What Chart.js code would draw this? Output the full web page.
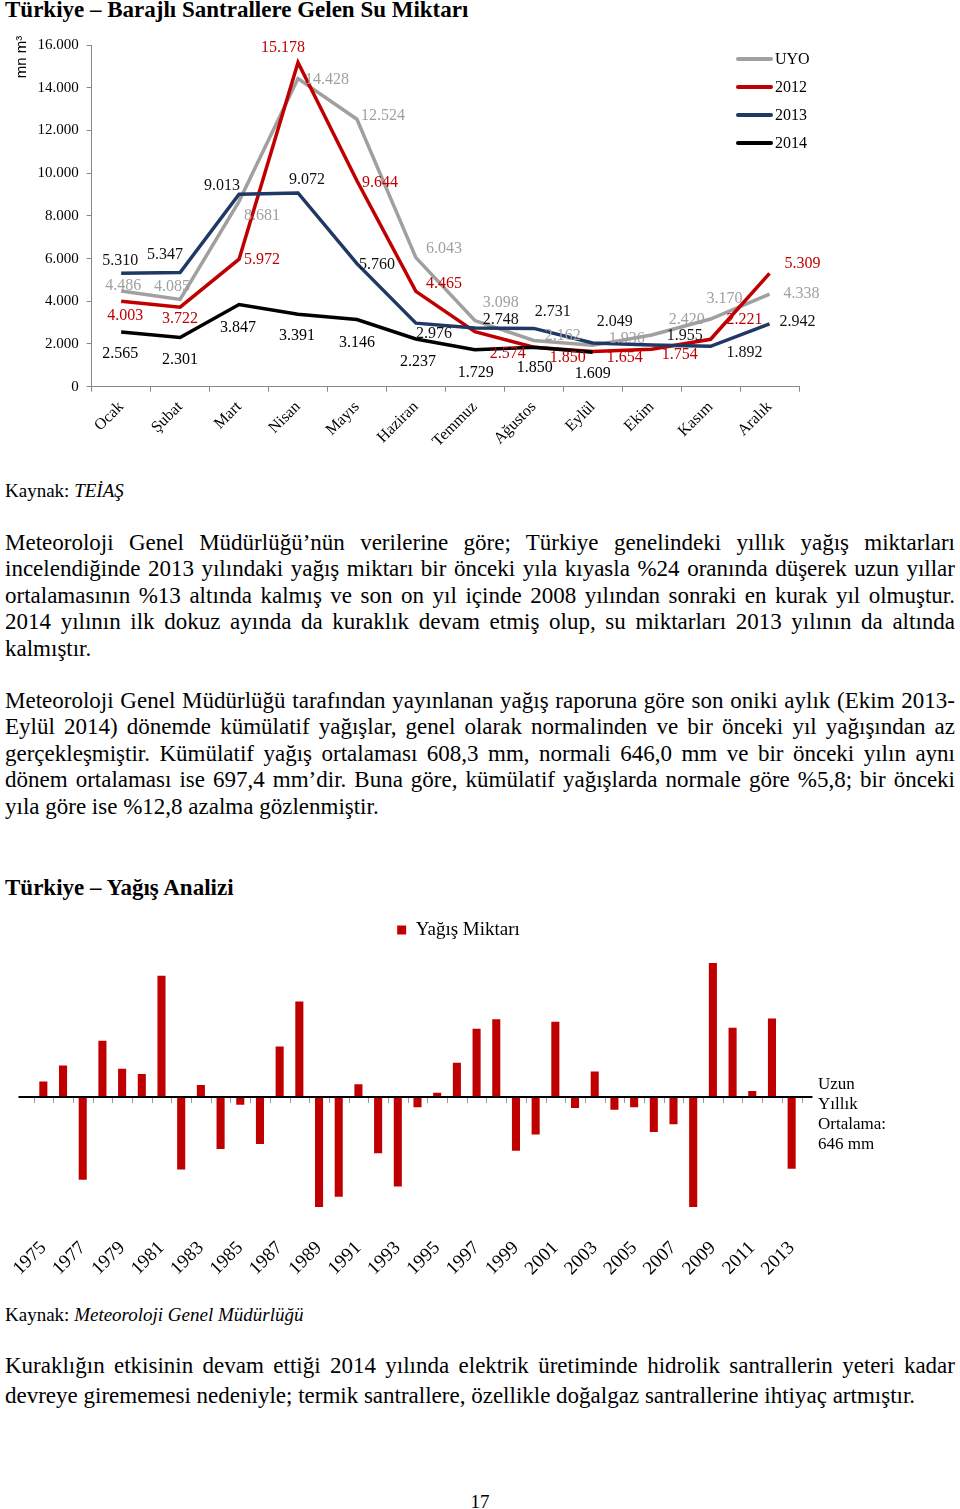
<!DOCTYPE html>
<html lang="tr">
<head>
<meta charset="utf-8">
<script src="https://cdn.jsdelivr.net/npm/chart.js@4.4.1/dist/chart.umd.min.js"></script>
<style>
html,body{margin:0;padding:0;background:#fff;}
body{width:960px;height:1509px;position:relative;overflow:hidden;font-family:"Liberation Serif","Times New Roman",serif;color:#000;}
.abs{position:absolute;white-space:nowrap;}
.title{font-weight:bold;font-size:23px;line-height:23px;left:5px;}
.src{font-size:19px;line-height:19px;left:5px;}
.ln{left:5px;width:950px;font-size:23px;line-height:23px;text-align:justify;text-align-last:justify;}
.ln.last{text-align-last:left;}
canvas{position:absolute;left:0;}
</style>
</head>
<body>
<div class="abs title" style="top:-2.3px">Türkiye – Barajlı Santrallere Gelen Su Miktarı</div>
<canvas id="c1" width="840" height="430" style="top:28px"></canvas>
<div class="abs src" style="top:481.1px">Kaynak: <i>TEİAŞ</i></div>

<div class="abs ln" style="top:530.74px">Meteoroloji Genel Müdürlüğü’nün verilerine göre; Türkiye genelindeki yıllık yağış miktarları</div>
<div class="abs ln" style="top:557.24px">incelendiğinde 2013 yılındaki yağış miktarı bir önceki yıla kıyasla %24 oranında düşerek uzun yıllar</div>
<div class="abs ln" style="top:583.74px">ortalamasının %13 altında kalmış ve son on yıl içinde 2008 yılından sonraki en kurak yıl olmuştur.</div>
<div class="abs ln" style="top:610.24px">2014 yılının ilk dokuz ayında da kuraklık devam etmiş olup, su miktarları 2013 yılının da altında</div>
<div class="abs ln last" style="top:636.74px">kalmıştır.</div>

<div class="abs ln" style="top:688.74px">Meteoroloji Genel Müdürlüğü tarafından yayınlanan yağış raporuna göre son oniki aylık (Ekim 2013-</div>
<div class="abs ln" style="top:715.24px">Eylül 2014) dönemde kümülatif yağışlar, genel olarak normalinden ve bir önceki yıl yağışından az</div>
<div class="abs ln" style="top:741.74px">gerçekleşmiştir. Kümülatif yağış ortalaması 608,3 mm, normali 646,0 mm ve bir önceki yılın aynı</div>
<div class="abs ln" style="top:768.24px">dönem ortalaması ise 697,4 mm’dir. Buna göre, kümülatif yağışlarda normale göre %5,8; bir önceki</div>
<div class="abs ln last" style="top:794.74px">yıla göre ise %12,8 azalma gözlenmiştir.</div>

<div class="abs title" style="top:875.7px">Türkiye – Yağış Analizi</div>
<canvas id="c2" width="900" height="380" style="top:905px"></canvas>
<div class="abs src" style="top:1305.1px">Kaynak: <i>Meteoroloji Genel Müdürlüğü</i></div>

<div class="abs ln" style="top:1353.74px">Kuraklığın etkisinin devam ettiği 2014 yılında elektrik üretiminde hidrolik santrallerin yeteri kadar</div>
<div class="abs ln last" style="top:1383.74px">devreye girememesi nedeniyle; termik santrallere, özellikle doğalgaz santrallerine ihtiyaç artmıştır.</div>

<div class="abs" style="top:1492.1px;left:0;width:960px;text-align:center;font-size:19px;line-height:19px;">17</div>

<script>
// ---------- DATA ----------
const months = ['Ocak','Şubat','Mart','Nisan','Mayıs','Haziran','Temmuz','Ağustos','Eylül','Ekim','Kasım','Aralık'];
const seriesNames = ['UYO','2012','2013','2014'];
const waterUYO  = [4486,4085,8681,14428,12524,6043,3098,2162,1936,2420,3170,4338];
const water2012 = [4003,3722,5972,15178,9644,4465,2574,1850,1654,1754,2221,5309];
const water2013 = [5310,5347,9013,9072,5760,2976,2748,2731,2049,1955,1892,2942];
const water2014 = [2565,2301,3847,3391,3146,2237,1729,1850,1609,null,null,null];
const waterAxisMin = 0, waterAxisMax = 16000, waterAxisStep = 2000;

const years = ['1975','1976','1977','1978','1979','1980','1981','1982','1983','1984','1985','1986','1987','1988','1989','1990','1991','1992','1993','1994','1995','1996','1997','1998','1999','2000','2001','2002','2003','2004','2005','2006','2007','2008','2009','2010','2011','2012','2013'];
const rainfall = [664,683,549,712,679,673,788,561,660,585,637,591,705,758,517,529,661,580,541,634,651,686,726,737,583,602,734,633,676,631,634,605,614,517,803,727,653,738,562];
const rainSeriesName = 'Yağış Miktarı';
const longTermAvg = 646;
const avgLabelLines = ['Uzun','Yıllık','Ortalama:', longTermAvg + ' mm'];

// ---------- STYLE / LAYOUT ----------
const SERIF = '"Liberation Serif","Times New Roman",serif';
const lineColors  = ['#A0A0A0','#C00000','#1F3864','#000000'];
const labelColors = ['#A0A0A0','#C00000','#111111','#000000'];
const lineOrder   = [4,3,2,1];
// data-label offsets (px) relative to each point
const labelOffsets = [
  [[2,-5],[-8,-13],[23,14],[29,1],[26,-3],[28,-9],[26,-18],[29,-5],[34,-7],[35,-15],[14,-20],[32,0]],
  [[4,15],[0,12],[23,1],[-15,-15],[23,2],[28,-8],[33,22],[34,11],[32,6],[28,6],[34,-19],[33,-10]],
  [[-1,-13],[-15,-18],[-17,-8],[9,-13],[20,1],[18,11],[26,-8],[19,-17],[22,-21],[33,-9],[34,7],[28,-2]],
  [[-1,22],[0,22],[-1,23],[-1,22],[0,23],[2,23],[1,23],[1,21],[0,21]]
];

function fmt(v){ return String(v).replace(/\B(?=(\d{3})+(?!\d))/g,'.'); }

const pointLabels = {
  id:'pointLabels',
  afterDatasetsDraw(chart){
    const ctx = chart.ctx;
    ctx.save();
    ctx.font = '16px ' + SERIF;
    ctx.textAlign = 'center';
    ctx.textBaseline = 'middle';
    chart.data.datasets.forEach((ds,i)=>{
      const meta = chart.getDatasetMeta(i);
      ctx.fillStyle = labelColors[i];
      ds.data.forEach((v,j)=>{
        if (v === null) return;
        const p = meta.data[j];
        const o = labelOffsets[i][j] || [0,0];
        ctx.fillText(fmt(v), p.x + o[0], p.y + o[1]);
      });
    });
    ctx.restore();
  }
};

const sideLegend = {
  id:'sideLegend',
  afterDraw(chart){
    const ctx = chart.ctx;
    const x0 = chart.chartArea.right - 61, y0 = 31, step = 28;
    ctx.save();
    ctx.font = '16px ' + SERIF;
    ctx.textBaseline = 'middle';
    ctx.textAlign = 'left';
    chart.data.datasets.forEach((ds,i)=>{
      const y = y0 + i*step;
      ctx.strokeStyle = ds.borderColor;
      ctx.lineWidth = 4;
      ctx.lineCap = 'round';
      ctx.beginPath(); ctx.moveTo(x0, y); ctx.lineTo(x0+33, y); ctx.stroke();
      ctx.fillStyle = '#000';
      ctx.fillText(ds.label, x0+37, y+1);
    });
    ctx.restore();
  }
};

const yTitle = {
  id:'yTitle',
  afterDraw(chart){
    const ctx = chart.ctx;
    ctx.save();
    ctx.translate(22, 29);
    ctx.rotate(-Math.PI/2);
    ctx.font = '15px "Liberation Sans",Arial,sans-serif';
    ctx.fillStyle = '#000';
    ctx.textAlign = 'center';
    ctx.textBaseline = 'middle';
    ctx.fillText('mn m³', 0, 0);
    ctx.restore();
  }
};

const waterSeries = [waterUYO, water2012, water2013, water2014];

new Chart(document.getElementById('c1'), {
  type:'line',
  data:{
    labels: months,
    datasets: seriesNames.map((n,i)=>({
      label:n, data:waterSeries[i], borderColor:lineColors[i], backgroundColor:lineColors[i],
      order:lineOrder[i], borderWidth:3.5, tension:0, pointRadius:0, fill:false, spanGaps:false
    }))
  },
  options:{
    responsive:false, animation:false, events:[],
    layout:{padding:{left:37.7,right:41,top:12,bottom:1.3}},
    plugins:{legend:{display:false}, tooltip:{enabled:false}},
    scales:{
      x:{
        offset:true,
        grid:{drawOnChartArea:false, offset:true, tickLength:5, color:'#888'},
        border:{display:true, color:'#888', width:1},
        ticks:{autoSkip:false, minRotation:45, maxRotation:45, padding:6, color:'#000', font:{family:SERIF, size:16}},
        afterFit:s=>{ s.height = 70; }
      },
      y:{
        min:waterAxisMin, max:waterAxisMax,
        grid:{drawOnChartArea:false, tickLength:5, color:'#888'},
        border:{display:true, color:'#888', width:1},
        ticks:{stepSize:waterAxisStep, padding:8, color:'#000', font:{family:SERIF, size:15}, callback:v=>fmt(v)},
        afterFit:s=>{ s.width = 54; }
      }
    }
  },
  plugins:[pointLabels, sideLegend, yTitle]
});

const avgLine = {
  id:'avgLine',
  afterDatasetsDraw(chart){
    const ctx = chart.ctx;
    const ys = chart.scales.y;
    const y0 = ys.getPixelForValue(longTermAvg);
    const a = chart.chartArea;
    const n = chart.data.labels.length;
    const w = (a.right - a.left)/n;
    ctx.save();
    ctx.strokeStyle = '#999';
    ctx.lineWidth = 1;
    for (let k=0;k<=n;k++){
      const x = Math.round(a.left + k*w) + 0.5;
      ctx.beginPath(); ctx.moveTo(x, y0+1); ctx.lineTo(x, y0+6); ctx.stroke();
    }
    ctx.strokeStyle = '#000';
    ctx.lineWidth = 2;
    ctx.beginPath(); ctx.moveTo(a.left-15, y0); ctx.lineTo(a.right+11, y0); ctx.stroke();
    ctx.fillStyle = '#000';
    ctx.font = '17px ' + SERIF;
    ctx.textAlign = 'left';
    ctx.textBaseline = 'middle';
    avgLabelLines.forEach((t,i)=>{
      ctx.fillText(t, a.right + 16.5, y0 - 12 + i*20);
    });
    ctx.restore();
  }
};

new Chart(document.getElementById('c2'), {
  type:'bar',
  data:{
    labels: years,
    datasets:[{label:rainSeriesName, data:rainfall, base:longTermAvg, backgroundColor:'#C00000', borderWidth:0, barPercentage:0.41, categoryPercentage:1}]
  },
  options:{
    responsive:false, animation:false, events:[],
    layout:{padding:{left:33.5,right:16.5,top:5.5,bottom:0}},
    plugins:{
      legend:{display:true, position:'top', labels:{boxWidth:9, boxHeight:9, padding:10, color:'#000', font:{family:SERIF, size:19}}},
      tooltip:{enabled:false}
    },
    scales:{
      x:{
        grid:{display:false}, border:{display:false},
        ticks:{autoSkip:false, minRotation:45, maxRotation:45, padding:4, color:'#000', font:{family:SERIF, size:19},
               callback:(v,i)=> (i%2===0 ? years[i] : '')},
        afterFit:s=>{ s.height = 60; }
      },
      y:{
        position:'right', min:496, max:818.8,
        grid:{display:false}, border:{display:false}, ticks:{display:false},
        afterFit:s=>{ s.width = 82; }
      }
    }
  },
  plugins:[avgLine]
});
</script>
</body>
</html>
